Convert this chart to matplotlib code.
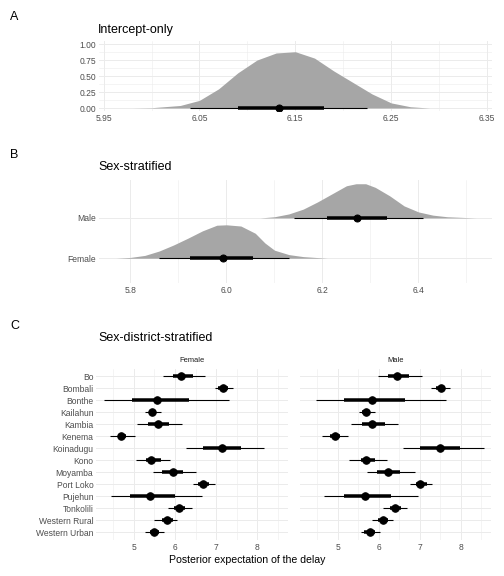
import matplotlib
matplotlib.use("Agg")
import matplotlib.pyplot as plt
import numpy as np

# ---------------------------------------------------------------------------
# Data
# ---------------------------------------------------------------------------

# Panel A: intercept-only posterior density (scaled to max ~0.88)
a_x = [5.98, 6.00, 6.03, 6.05, 6.07, 6.09, 6.11, 6.13, 6.15, 6.17, 6.19, 6.21, 6.23, 6.25, 6.27, 6.29]
a_y = [0.0, 0.005, 0.04, 0.12, 0.30, 0.55, 0.75, 0.86, 0.88, 0.78, 0.58, 0.40, 0.22, 0.08, 0.02, 0.0]
a_interval = (6.133, 6.09, 6.18, 6.04, 6.225)  # point, 66% lo/hi, 95% lo/hi

# Panel B: sex-stratified
sexes = ["Female", "Male"]
b_x = {
    "Female": [5.77, 5.80, 5.83, 5.86, 5.89, 5.92, 5.95, 5.98, 6.00, 6.03, 6.06, 6.08, 6.10, 6.13, 6.16, 6.21],
    "Male": [6.07, 6.10, 6.13, 6.16, 6.19, 6.22, 6.25, 6.27, 6.29, 6.31, 6.34, 6.37, 6.40, 6.43, 6.46, 6.52],
}
b_y = {
    "Female": [0.0, 0.02, 0.07, 0.18, 0.33, 0.50, 0.68, 0.82, 0.83, 0.80, 0.62, 0.38, 0.20, 0.09, 0.04, 0.0],
    "Male": [0.0, 0.03, 0.10, 0.22, 0.40, 0.60, 0.80, 0.85, 0.85, 0.76, 0.55, 0.30, 0.15, 0.07, 0.03, 0.0],
}
b_interval = {
    "Female": (5.993, 5.925, 6.055, 5.86, 6.13),
    "Male": (6.272, 6.21, 6.335, 6.14, 6.41),
}

# Panel C: sex-district-stratified
districts = ["Bo", "Bombali", "Bonthe", "Kailahun", "Kambia", "Kenema", "Koinadugu",
             "Kono", "Moyamba", "Port Loko", "Pujehun", "Tonkolili",
             "Western Rural", "Western Urban"]
female_pt = [6.15, 7.18, 5.56, 5.45, 5.58, 4.69, 7.14, 5.42, 5.94, 6.69, 5.40, 6.10, 5.81, 5.50]
female_lo66 = [5.94, 7.06, 4.94, 5.38, 5.34, 4.60, 6.69, 5.30, 5.68, 6.57, 4.90, 5.97, 5.68, 5.40]
female_hi66 = [6.43, 7.29, 6.33, 5.54, 5.86, 4.81, 7.62, 5.65, 6.20, 6.83, 6.00, 6.24, 5.94, 5.62]
female_lo95 = [5.70, 6.98, 4.27, 5.27, 5.08, 4.41, 6.27, 5.04, 5.46, 6.45, 4.44, 5.82, 5.50, 5.28]
female_hi95 = [6.73, 7.41, 7.31, 5.66, 6.18, 5.02, 8.16, 5.89, 6.52, 6.98, 6.67, 6.41, 6.06, 5.74]
male_pt = [6.46, 7.52, 5.83, 5.70, 5.84, 4.93, 7.49, 5.70, 6.23, 7.02, 5.67, 6.40, 6.10, 5.79]
male_lo66 = [6.23, 7.39, 5.15, 5.60, 5.60, 4.82, 7.02, 5.57, 5.96, 6.90, 5.15, 6.28, 5.99, 5.65]
male_hi66 = [6.74, 7.63, 6.64, 5.80, 6.15, 5.05, 7.98, 5.92, 6.52, 7.17, 6.30, 6.54, 6.24, 5.92]
male_lo95 = [5.98, 7.27, 4.47, 5.52, 5.33, 4.63, 6.60, 5.27, 5.72, 6.77, 4.67, 6.10, 5.84, 5.56]
male_hi95 = [7.06, 7.73, 7.65, 5.90, 6.48, 5.25, 8.58, 6.20, 6.88, 7.31, 6.97, 6.68, 6.36, 6.04]

# ---------------------------------------------------------------------------
# Style helpers
# ---------------------------------------------------------------------------

plt.rcParams["font.family"] = ["Liberation Sans", "DejaVu Sans"]
GRID = "#ebebeb"
TICK = "#4d4d4d"
FILL = "#a6a6a6"
TICK_SIZE = 8.5
TITLE_SIZE = 12.5


def minimal(ax):
    for s in ax.spines.values():
        s.set_visible(False)
    ax.grid(True, which="major", color=GRID, linewidth=1.0)
    ax.grid(True, which="minor", color=GRID, linewidth=0.5)
    ax.set_axisbelow(True)
    ax.tick_params(which="both", length=0, labelsize=TICK_SIZE, labelcolor=TICK, pad=3)


def interval(ax, y, vals, ms=7):
    pt, lo66, hi66, lo95, hi95 = vals
    ax.plot([lo95, hi95], [y, y], color="black", linewidth=1.1, solid_capstyle="butt", zorder=3)
    ax.plot([lo66, hi66], [y, y], color="black", linewidth=3.5, solid_capstyle="butt", zorder=3)
    ax.plot([pt], [y], "o", color="black", markersize=ms, zorder=4)


fig = plt.figure(figsize=(7, 8), dpi=72)

# ---------------------------------------------------------------------------
# Panel A
# ---------------------------------------------------------------------------
ax_a = fig.add_axes([0.196, 0.808, 0.78, 0.12])
minimal(ax_a)
ax_a.fill_between(a_x, 0, a_y, color=FILL, linewidth=0, zorder=2)
interval(ax_a, 0, a_interval)
ax_a.set_xlim(5.945, 6.355)
ax_a.set_ylim(-0.04, 1.04)
ax_a.set_xticks([5.95, 6.05, 6.15, 6.25, 6.35])
ax_a.set_xticks([6.00, 6.10, 6.20, 6.30], minor=True)
ax_a.set_yticks([0, 0.25, 0.5, 0.75, 1.0])
ax_a.set_yticklabels(["0.00", "0.25", "0.50", "0.75", "1.00"])
ax_a.set_yticks([0.125, 0.375, 0.625, 0.875], minor=True)

# ---------------------------------------------------------------------------
# Panel B
# ---------------------------------------------------------------------------
ax_b = fig.add_axes([0.196, 0.508, 0.78, 0.18])
minimal(ax_b)
ax_b.grid(False, which="minor", axis="y")
for i, s in enumerate(sexes):
    y0 = i + 1
    ax_b.fill_between(b_x[s], y0, np.array(b_y[s]) + y0, color=FILL, linewidth=0, zorder=2)
    interval(ax_b, y0, b_interval[s])
ax_b.set_xlim(5.734, 6.553)
ax_b.set_ylim(0.375, 2.95)
ax_b.set_xticks([5.8, 6.0, 6.2, 6.4])
ax_b.set_xticks([5.9, 6.1, 6.3, 6.5], minor=True)
ax_b.set_yticks([1, 2])
ax_b.set_yticklabels(sexes)

# ---------------------------------------------------------------------------
# Panel C
# ---------------------------------------------------------------------------
rows = np.arange(len(districts))
facets = [
    ("Female", female_pt, female_lo66, female_hi66, female_lo95, female_hi95, 0.191),
    ("Male", male_pt, male_lo66, male_hi66, male_lo95, male_hi95, 0.595),
]
for k, (name, pt, lo66, hi66, lo95, hi95, left) in enumerate(facets):
    ax = fig.add_axes([left, 0.062, 0.38, 0.298])
    minimal(ax)
    ax.grid(False, which="minor", axis="y")
    for r in rows:
        interval(ax, r, (pt[r], lo66[r], hi66[r], lo95[r], hi95[r]), ms=7.5)
    ax.set_xlim(4.08, 8.75)
    ax.set_ylim(13.65, -0.65)
    ax.set_xticks([5, 6, 7, 8])
    ax.set_xticks([4.5, 5.5, 6.5, 7.5, 8.5], minor=True)
    ax.set_yticks(rows)
    if k == 0:
        ax.set_yticklabels(districts)
    else:
        ax.set_yticklabels([])
    ax.text(0.5, 1.025, name, transform=ax.transAxes, ha="center", va="bottom",
            fontsize=7.5, color="#1a1a1a")

fig.text(0.49, 0.028, "Posterior expectation of the delay", ha="center", va="center", fontsize=10.5)

# Titles and panel letters (positions in pixels from top)
W, H = 504, 576
for label, y in [("Intercept-only", 30), ("Sex-stratified", 167), ("Sex-district-stratified", 338)]:
    fig.text(98 / W, 1 - y / H, label, fontsize=TITLE_SIZE, va="center")
for label, y in [("A", 17), ("B", 155), ("C", 326)]:
    fig.text(10 / W, 1 - y / H, label, fontsize=TITLE_SIZE, va="center")

fig.savefig("out.png", dpi=72)
